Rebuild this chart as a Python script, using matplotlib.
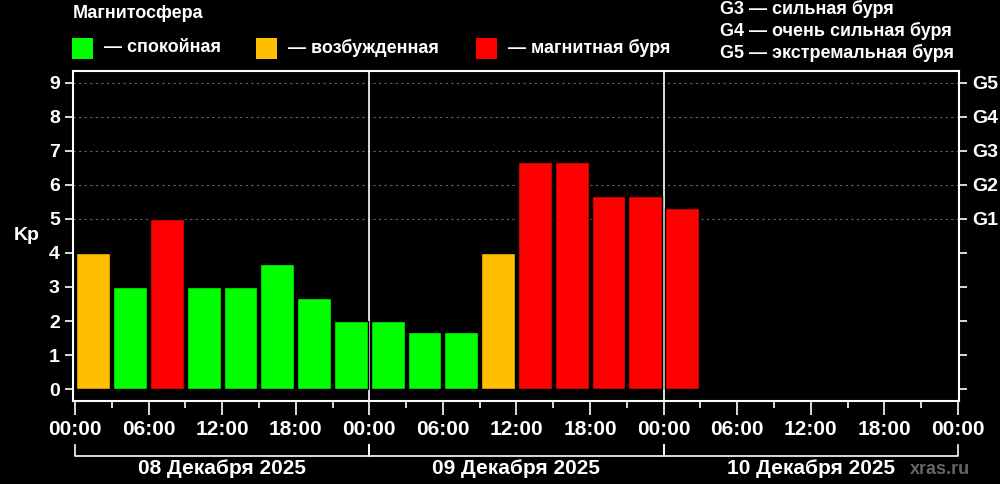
import matplotlib

matplotlib.use("Agg")
import matplotlib.pyplot as plt
from matplotlib.patches import Rectangle
import matplotlib.transforms as mtransforms

plt.rcParams["font.family"] = ["Liberation Sans", "DejaVu Sans"]
plt.rcParams["font.weight"] = "bold"
plt.rcParams["axes.labelweight"] = "bold"

# Kp index per 3-hour interval, starting 08 Dec 2025 00:00
kp_values = [4, 3, 5, 3, 3, 3.67, 2.67, 2,
             2, 1.67, 1.67, 4, 6.67, 6.67, 5.67, 5.67,
             5.33]
days = ["08 Декабря 2025", "09 Декабря 2025", "10 Декабря 2025"]
hour_labels = ["00:00", "06:00", "12:00", "18:00"]
g_labels = ["G1", "G2", "G3", "G4", "G5"]
legend_items = [("#00ff00", "— спокойная"), ("#ffbf00", "— возбужденная"), ("#ff0000", "— магнитная буря")]
g_notes = ["G3 — сильная буря", "G4 — очень сильная буря", "G5 — экстремальная буря"]


def kp_color(v):
    if v < 4:
        return "#00ff00"
    if v < 5:
        return "#ffbf00"
    return "#ff0000"


fig = plt.figure(figsize=(10, 4.84), dpi=100, facecolor="black")
ax = fig.add_axes([0.073, 0.1715, 0.886, 0.682], facecolor="black")

x = [1.5 + 3 * i for i in range(len(kp_values))]
ax.bar(x, kp_values, width=2.75, color=[kp_color(v) for v in kp_values],
       edgecolor="black", linewidth=1, zorder=3)

total_h = 24 * len(days)
ax.set_xlim(-0.16, total_h + 0.08)
ax.set_ylim(-0.35, 9.35)

# grid for storm levels
for lvl in range(5, 10):
    ax.axhline(lvl, color="#666666", linestyle=(0, (2, 3)), linewidth=0.8, zorder=1)
for d in range(1, len(days)):
    ax.axvline(24 * d, color="white", linewidth=1.2, zorder=2)

for s in ax.spines.values():
    s.set_color("white")
    s.set_linewidth(1.5)

ax.set_yticks(range(10))
ax.tick_params(axis="y", colors="white", labelsize=14, length=6, width=1.2)
ax.set_ylabel("Kp", color="white", fontsize=14, rotation=0, labelpad=16, va="center")

major = list(range(0, total_h + 1, 6))
ax.set_xticks(major)
ax.set_xticklabels([hour_labels[(h // 6) % 4] for h in major])
ax.set_xticks(range(0, total_h + 1, 3), minor=True)
ax.tick_params(axis="x", which="major", colors="white", labelsize=15, length=10, width=1.2, pad=4)
ax.tick_params(axis="x", which="minor", colors="white", length=5, width=1.2)

ax2 = ax.twinx()
ax2.set_ylim(ax.get_ylim())
ax2.set_yticks(range(10))
ax2.set_yticklabels([""] * 5 + g_labels)
ax2.tick_params(axis="y", colors="white", labelsize=14, length=6, width=1.2)
for s in ax2.spines.values():
    s.set_visible(False)

# day brackets under the axis
trans = mtransforms.blended_transform_factory(ax.transData, ax.transAxes)
for i, day in enumerate(days):
    x0, x1 = 24 * i, 24 * (i + 1)
    ax.plot([x0, x0, x1, x1], [-0.133, -0.167, -0.167, -0.133], color="white",
            linewidth=1.2, transform=trans, clip_on=False)
    ax.text((x0 + x1) / 2, -0.206, day, color="white", fontsize=15,
            ha="center", va="center", transform=trans)

fig.text(0.94, 1 - 469 / 484, "xras.ru", color="#666666", fontsize=13,
         ha="center", va="center")

# legend header
fig.text(0.073, 1 - 14 / 484, "Магнитосфера", color="white", fontsize=13,
         ha="left", va="center")
square_x = [72, 256, 476]
for (color, label), sx in zip(legend_items, square_x):
    fig.patches.append(Rectangle((sx / 1000, 1 - 59 / 484), 21 / 1000, 21 / 484,
                                 transform=fig.transFigure, facecolor=color,
                                 edgecolor="none"))
    fig.text((sx + 32) / 1000, 1 - 48 / 484, label, color="white", fontsize=13,
             ha="left", va="center")

for i, note in enumerate(g_notes):
    fig.text(0.72, 1 - (9 + 22 * i) / 484, note, color="white", fontsize=13,
             ha="left", va="center")

fig.savefig("out.png", dpi=100, facecolor="black")
